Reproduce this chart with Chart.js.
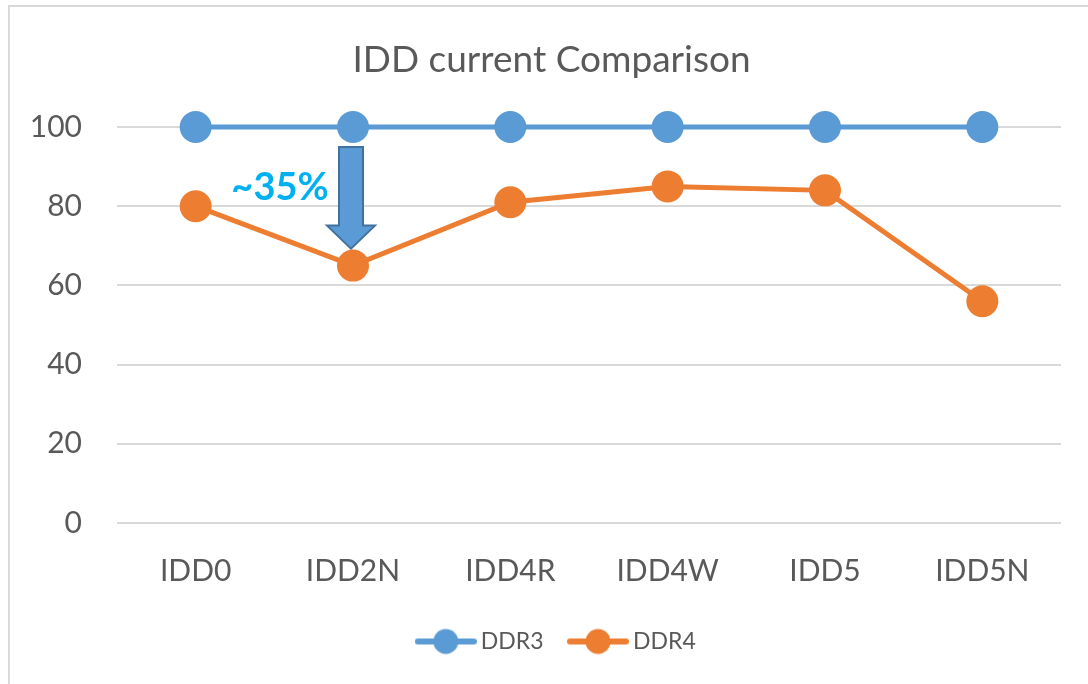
<!DOCTYPE html>
<html>
<head>
<meta charset="utf-8">
<title>IDD current Comparison</title>
<script src="https://cdn.jsdelivr.net/npm/chart.js@4"></script>
<style>
  html, body { margin: 0; padding: 0; background: #fff; overflow: hidden; }
  #wrap { position: relative; width: 1088px; height: 684px; }
  #frame {
    position: absolute; left: 8px; top: 5px; width: 1100px; height: 700px;
    border: 2px solid #d9d9d9; box-sizing: border-box; pointer-events: none;
  }
</style>
</head>
<body>
<div id="wrap">
  <canvas id="iddChart" width="1088" height="684"></canvas>
  <div id="frame"></div>
</div>
<script>
// chart data
const categories = ["IDD0", "IDD2N", "IDD4R", "IDD4W", "IDD5", "IDD5N"];
const ddr3 = [100, 100, 100, 100, 100, 100];
const ddr4 = [80, 65, 81, 85, 84, 56];
const yTicks = [0, 20, 40, 60, 80, 100];
const noteText = "~35%";

const BLUE = "#5B9BD5";
const ORANGE = "#ED7D31";
const TEXT = "#595959";
const FONT = "Lato, 'Open Sans', sans-serif";

// legend icon: short line with a dot in the middle
const legendIcon = (color) => {
  const c = document.createElement("canvas");
  c.width = 62;
  c.height = 28;
  const g = c.getContext("2d");
  g.strokeStyle = color;
  g.lineWidth = 6;
  g.lineCap = "round";
  g.beginPath();
  g.moveTo(3, 14);
  g.lineTo(59, 14);
  g.stroke();
  g.fillStyle = color;
  g.beginPath();
  g.arc(31, 14, 12.5, 0, Math.PI * 2);
  g.fill();
  return c;
};
const icons = [legendIcon(BLUE), legendIcon(ORANGE)];

// nudge title and legend so they sit where the original ones are
const boxNudge = {
  id: "boxNudge",
  afterLayout(chart) {
    chart.titleBlock.left += 42;
    chart.legend.left += 57;
    chart.legend.top -= 20;
  },
};

// the "~35%" down arrow between the two IDD2N points
const arrowNote = {
  id: "arrowNote",
  afterDatasetsDraw(chart) {
    const { ctx, scales } = chart;
    const cx = scales.x.getPixelForValue(1) - 2;
    const top = scales.y.getPixelForValue(ddr3[1]) + 20;
    const tip = scales.y.getPixelForValue(ddr4[1]) - 17;
    const headTop = tip - 23;
    ctx.save();
    ctx.beginPath();
    ctx.moveTo(cx - 12, top);
    ctx.lineTo(cx + 12, top);
    ctx.lineTo(cx + 12, headTop);
    ctx.lineTo(cx + 24, headTop);
    ctx.lineTo(cx, tip);
    ctx.lineTo(cx - 24, headTop);
    ctx.lineTo(cx - 12, headTop);
    ctx.closePath();
    ctx.fillStyle = BLUE;
    ctx.fill();
    ctx.strokeStyle = "#41719C";
    ctx.lineWidth = 2;
    ctx.stroke();

    ctx.fillStyle = "#00B0F0";
    ctx.font = "bold 38px " + FONT;
    ctx.textAlign = "center";
    ctx.textBaseline = "middle";
    ctx.fillText(noteText, cx - 71, top + 41);
    ctx.restore();
  },
};

const ctx = document.getElementById("iddChart").getContext("2d");
new Chart(ctx, {
  type: "line",
  data: {
    labels: categories,
    datasets: [
      {
        label: "DDR3",
        data: ddr3,
        borderColor: BLUE,
        backgroundColor: BLUE,
        borderWidth: 5,
        pointRadius: 16,
        pointHoverRadius: 16,
        pointBorderWidth: 0,
        clip: false,
      },
      {
        label: "DDR4",
        data: ddr4,
        borderColor: ORANGE,
        backgroundColor: ORANGE,
        borderWidth: 5,
        pointRadius: 16,
        pointHoverRadius: 16,
        pointBorderWidth: 0,
        clip: false,
      },
    ],
  },
  options: {
    responsive: false,
    animation: false,
    events: [],
    layout: { padding: { left: 0, right: 27, top: 0, bottom: 1 } },
    plugins: {
      title: {
        display: true,
        text: "IDD current Comparison",
        color: TEXT,
        font: { family: FONT, size: 37, weight: "normal", lineHeight: 1.2 },
        padding: { top: 38, bottom: 44.6 },
      },
      legend: {
        position: "bottom",
        labels: {
          color: TEXT,
          font: { family: FONT, size: 23 },
          usePointStyle: true,
          pointStyleWidth: 47,
          padding: 31,
          generateLabels(chart) {
            const items = Chart.defaults.plugins.legend.labels.generateLabels(chart);
            items.forEach((it, i) => {
              it.pointStyle = icons[i];
            });
            return items;
          },
        },
      },
      tooltip: { enabled: false },
    },
    scales: {
      x: {
        offset: true,
        grid: { display: false, drawTicks: false },
        border: { display: false },
        ticks: {
          color: TEXT,
          font: { family: FONT, size: 30, lineHeight: 1.2 },
          padding: 30,
        },
      },
      y: {
        min: 0,
        max: 100,
        afterBuildTicks(scale) {
          scale.ticks = yTicks.map((v) => ({ value: v }));
        },
        grid: { color: "#D9D9D9", lineWidth: 2, drawTicks: false },
        border: { display: false },
        ticks: {
          color: TEXT,
          font: { family: FONT, size: 30, lineHeight: 1.2 },
          padding: 35,
        },
        afterFit(scale) {
          scale.width = 117;
        },
      },
    },
  },
  plugins: [boxNudge, arrowNote],
});
</script>
</body>
</html>
